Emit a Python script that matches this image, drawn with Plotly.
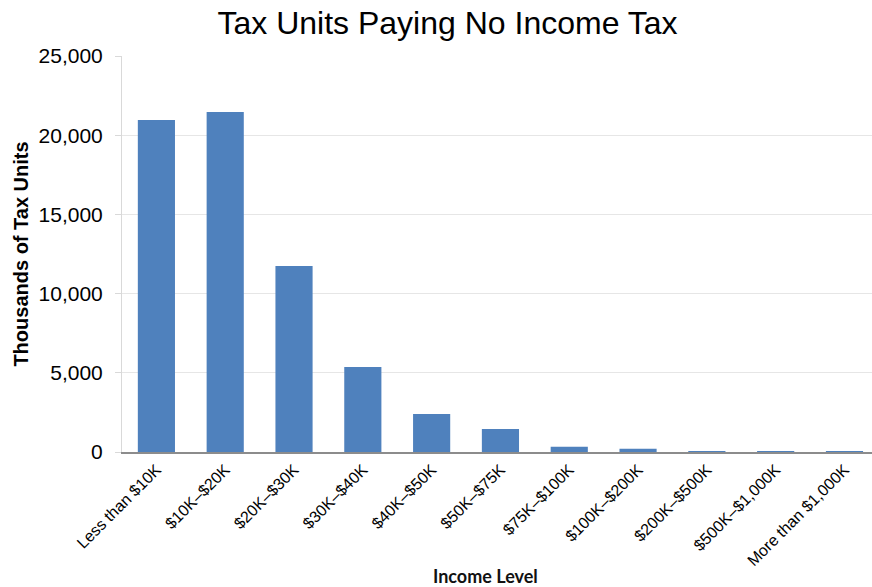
import plotly.graph_objects as go

categories = ["Less than $10K", "$10K–$20K", "$20K–$30K", "$30K–$40K", "$40K–$50K",
              "$50K–$75K", "$75K–$100K", "$100K–$200K", "$200K–$500K",
              "$500K–$1,000K", "More than $1,000K"]
values = [20960, 21460, 11740, 5370, 2400, 1450, 330, 200, 15, 2, 1]
y_ticks = [0, 5000, 10000, 15000, 20000, 25000]
y_tick_labels = ["0", "5,000", "10,000", "15,000", "20,000", "25,000"]

fig = go.Figure()
fig.add_trace(go.Bar(
    x=categories, y=values,
    marker=dict(color="#4F81BD", line=dict(width=0)),
    width=0.54,
))

fig.update_layout(
    width=872, height=587,
    margin=dict(l=122, r=0, t=56, b=135),
    paper_bgcolor="white", plot_bgcolor="white",
    showlegend=False,
    title=dict(text="Tax Units Paying No Income Tax",
               font=dict(family="Liberation Sans, Arial", size=32, color="#000"),
               x=(218 + 677) / 2 / 872, xanchor="center", y=1 - 23 / 587, yanchor="middle",
               xref="container", yref="container"),
    font=dict(family="Liberation Sans, Arial", color="#000"),
    xaxis=dict(
        type="category", range=[-0.5, 10.4],
        tickangle=-45, tickfont=dict(size=16),
        showline=True, linecolor="#8c8c8c", linewidth=2,
        showgrid=False, ticks="",
    ),
    yaxis=dict(
        range=[0, 25000], tickvals=y_ticks, ticktext=y_tick_labels,
        tickfont=dict(size=21),
        showgrid=True, gridcolor="#e6e6e6", gridwidth=1,
        showline=True, linecolor="#d9d9d9", linewidth=1,
        ticks="outside", ticklen=6, tickcolor="#d9d9d9",
        ticklabelstandoff=8,
        zeroline=False,
        title=dict(text="<b>Thousands of Tax Units</b>",
                   font=dict(size=20), standoff=4),
    ),
    annotations=[dict(
        text="<b>Income Level</b>", xref="paper", yref="paper",
        x=(485 - 122) / 750, y=-(576 - 452) / 396,
        xanchor="center", yanchor="middle", showarrow=False,
        font=dict(family="Lato, Open Sans", size=18, color="#111"),
    )],
)

fig.write_html("out.html")
